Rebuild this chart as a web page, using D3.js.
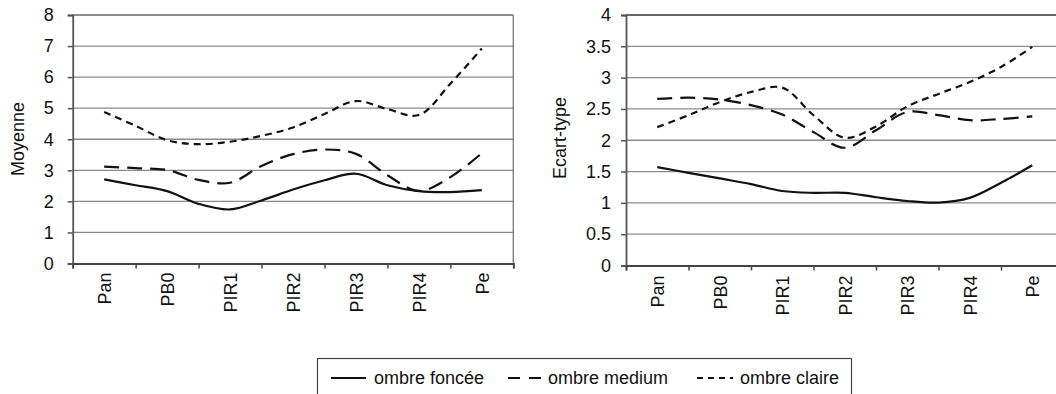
<!DOCTYPE html>
<html><head><meta charset="utf-8">
<script src="https://cdn.jsdelivr.net/npm/d3@7"></script>
<style>
body{margin:0;background:#fff}
svg{display:block}
text{font-family:"Liberation Sans",Arial,sans-serif;fill:#111}
</style>
</head><body>
<svg id="c" width="1056" height="394"></svg>
<script>
// ---------- data ----------
const categories = ["Pan", "PB0", "PIR1", "PIR2", "PIR3", "PIR4", "Pe"];
// sample positions (category index; halves are the points between categories)
const samplePositions = [0, 0.5, 1, 1.5, 2, 2.5, 3, 3.5, 4, 4.5, 5, 5.5, 6];
const seriesNames = ["ombre foncée", "ombre medium", "ombre claire"];

// Moyenne
const moyenneFoncee = [2.71, 2.52, 2.33, 1.92, 1.74, 2.03, 2.38, 2.68, 2.89, 2.52, 2.33, 2.30, 2.36];
const moyenneMedium = [3.12, 3.07, 3.01, 2.69, 2.60, 3.14, 3.52, 3.67, 3.53, 2.84, 2.34, 2.78, 3.55];
const moyenneClaire = [4.88, 4.43, 3.97, 3.84, 3.92, 4.11, 4.38, 4.81, 5.23, 4.97, 4.78, 5.79, 6.92];

// Ecart-type
const ecartFoncee = [1.57, 1.48, 1.39, 1.30, 1.19, 1.16, 1.16, 1.09, 1.03, 1.005, 1.08, 1.32, 1.60];
const ecartMedium = [2.66, 2.68, 2.65, 2.56, 2.41, 2.13, 1.88, 2.16, 2.45, 2.40, 2.32, 2.34, 2.38];
const ecartClaire = [2.21, 2.40, 2.61, 2.77, 2.84, 2.40, 2.04, 2.22, 2.54, 2.74, 2.93, 3.17, 3.49];

const yTicksMoyenne = [0, 1, 2, 3, 4, 5, 6, 7, 8];
const yTicksEcart = [0, 0.5, 1, 1.5, 2, 2.5, 3, 3.5, 4];
const yTitles = ["Moyenne", "Ecart-type"];

// ---------- styling ----------
const dashes = [null, "15,8", "7,5"];
const FONT = 18;

const svg = d3.select("#c");

function drawChart(cfg) {
  const g = svg.append("g");
  const x = d3.scaleLinear().domain([-0.5, categories.length - 0.5]).range([cfg.x0, cfg.x1]);
  const y = d3.scaleLinear().domain([0, cfg.max]).range([cfg.yb, cfg.yt]);

  // gridlines
  g.append("g").selectAll("line").data(cfg.ticks.filter(t => t > 0)).join("line")
    .attr("x1", cfg.x0).attr("x2", cfg.x1)
    .attr("y1", d => y(d)).attr("y2", d => y(d))
    .attr("stroke", d => d === cfg.max ? cfg.topColor : "#8a8a8a")
    .attr("stroke-width", d => d === cfg.max ? 1.6 : 1.3);

  // right border
  if (cfg.rightBorder) {
    g.append("line").attr("x1", cfg.x1).attr("x2", cfg.x1)
      .attr("y1", y(cfg.max)).attr("y2", y(0))
      .attr("stroke", "#777").attr("stroke-width", 1.3);
  }

  // y axis
  const ya = g.append("g").attr("transform", `translate(${cfg.x0},0)`)
    .call(d3.axisLeft(y).tickValues(cfg.ticks).tickSize(5).tickPadding(cfg.labelPad)
      .tickFormat(d => String(d)));
  ya.select(".domain").attr("stroke", "#555").attr("stroke-width", 1.8);
  ya.selectAll(".tick line").attr("stroke", "#555").attr("stroke-width", 1.5);
  ya.selectAll("text").style("font-size", FONT + "px").attr("fill", "#111");

  // x axis: tick marks on category boundaries
  const edges = [-0.5].concat(categories.map((c, i) => i + 0.5));
  const xa = g.append("g").attr("transform", `translate(0,${cfg.yb})`)
    .call(d3.axisBottom(x).tickValues(edges).tickSize(5).tickFormat(""));
  xa.select(".domain").attr("stroke", "#444").attr("stroke-width", 1.8);
  xa.selectAll(".tick line").attr("stroke", "#444").attr("stroke-width", 1.5);

  // x labels (rotated)
  const xl = g.append("g").attr("transform", `translate(0,${cfg.yb})`)
    .call(d3.axisBottom(x).tickValues(categories.map((c, i) => i)).tickSize(0)
      .tickFormat(i => categories[i]));
  xl.select(".domain").remove();
  xl.selectAll("text")
    .attr("transform", "rotate(-90)")
    .attr("x", -cfg.xLabelGap).attr("y", 0).attr("dy", "0.35em")
    .style("text-anchor", "end").style("font-size", FONT + "px").attr("fill", "#111");

  // y title
  g.append("text")
    .attr("transform", `translate(${cfg.titleX},${cfg.titleY}) rotate(-90)`)
    .attr("text-anchor", "middle").attr("dy", "0.35em")
    .style("font-size", FONT + "px")
    .text(cfg.title);

  // lines
  const line = d3.line()
    .x((d, i) => x(samplePositions[i]))
    .y(d => y(d))
    .curve(d3.curveCatmullRom.alpha(0.5));
  cfg.series.forEach((s, k) => {
    g.append("path").datum(s)
      .attr("d", line)
      .attr("fill", "none")
      .attr("stroke", "#111")
      .attr("stroke-width", 2.2)
      .attr("stroke-dasharray", dashes[k]);
  });
}

drawChart({
  x0: 72.7, x1: 513.3, yb: 263.5, yt: 15, max: 8, ticks: yTicksMoyenne,
  labelPad: 14, xLabelGap: 9, title: yTitles[0], titleX: 18, titleY: 139,
  series: [moyenneFoncee, moyenneMedium, moyenneClaire],
  rightBorder: true, topColor: "#666"
});

drawChart({
  x0: 626, x1: 1063.5, yb: 265.5, yt: 15, max: 4, ticks: yTicksEcart,
  labelPad: 10, xLabelGap: 10, title: yTitles[1], titleX: 560, titleY: 138,
  series: [ecartFoncee, ecartMedium, ecartClaire],
  rightBorder: false, topColor: "#333"
});

// ---------- legend ----------
const lg = svg.append("g");
lg.append("rect").attr("x", 317.5).attr("y", 358.5).attr("width", 534).attr("height", 60)
  .attr("fill", "#fff").attr("stroke", "#444").attr("stroke-width", 1.2);
const legendItems = [
  { x1: 331, x2: 366, tx: 374 },
  { x1: 508, x2: 542, tx: 548 },
  { x1: 697, x2: 733, tx: 740 }
];
const legendDashes = [null, "12,9", "6,5"];
seriesNames.forEach((n, k) => {
  const it = legendItems[k];
  lg.append("line").attr("x1", it.x1).attr("x2", it.x2).attr("y1", 378).attr("y2", 378)
    .attr("stroke", "#111").attr("stroke-width", 2.2).attr("stroke-dasharray", legendDashes[k]);
  lg.append("text").attr("x", it.tx).attr("y", 384).style("font-size", FONT + "px").text(n);
});
</script>
</body></html>
